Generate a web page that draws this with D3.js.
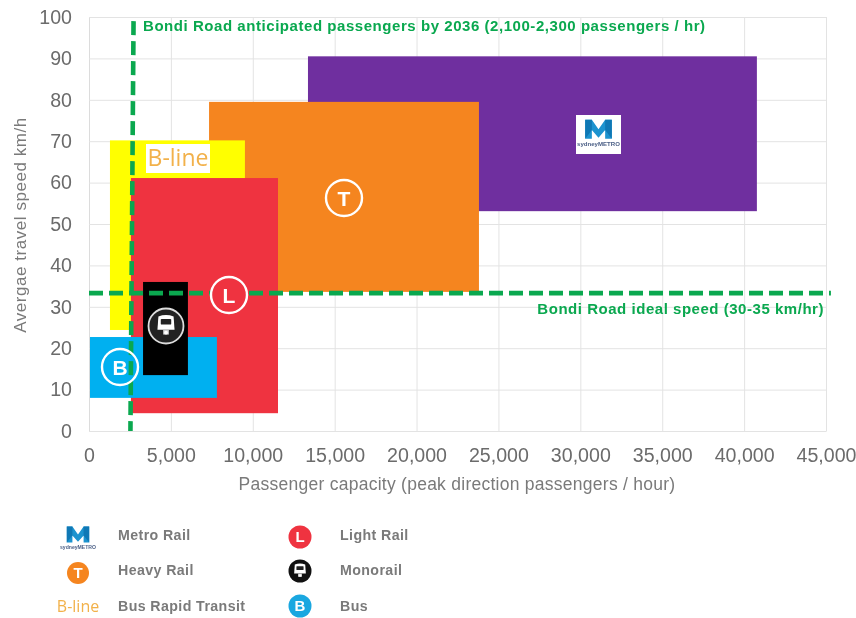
<!DOCTYPE html>
<html><head><meta charset="utf-8">
<script src="https://cdn.jsdelivr.net/npm/d3@7"></script>
<style>
html,body{margin:0;padding:0;background:#fff}
svg{display:block;filter:blur(0.5px)}
text{font-family:"Liberation Sans",Arial,sans-serif}
.tick line{stroke:#e3e3e3}
.domain{stroke:#dcdcdc}
</style></head><body>
<svg id="c" width="856" height="618"></svg>
<script>
const modes      = ["Metro Rail","Heavy Rail","Bus Rapid Transit","Light Rail","Bus","Monorail"];
const capMin     = [13370, 7330, 1280, 2560,   60, 3300];
const capMax     = [40780,23810, 9520,11540, 7810, 6040];
const speedMin   = [53.1, 33.6, 24.4,  4.3,  8.0, 13.5];
const speedMax   = [90.5, 79.5, 70.2, 61.1, 22.7, 36.0];
const modeColors = ["#6f2f9f","#f5851f","#ffff00","#ef3340","#00b0f0","#000000"];
const xTicks = [0,5000,10000,15000,20000,25000,30000,35000,40000,45000];
const yTicks = [0,10,20,30,40,50,60,70,80,90,100];
const idealSpeedX = [0,45300];  const idealSpeedY = [33.3,33.3];
const anticipatedX = [2720,2530]; const anticipatedY = [99,0];
const green = "#0aa84f", grey="#7a7a7a";
const legendLeft  = ["Metro Rail","Heavy Rail","Bus Rapid Transit"];
const legendRight = ["Light Rail","Monorail","Bus"];

const svg=d3.select("#c");
const x=d3.scaleLinear().domain([0,45000]).range([89,826]);
const y=d3.scaleLinear().domain([0,100]).range([431,17]);

const gx=svg.append("g").attr("transform","translate(0,431)")
  .call(d3.axisBottom(x).tickValues(xTicks).tickSize(-414).tickSizeOuter(0).tickPadding(17).tickFormat(d3.format(",")));
const gy=svg.append("g").attr("transform","translate(89,0)")
  .call(d3.axisLeft(y).tickValues(yTicks).tickSize(-737).tickSizeOuter(0).tickPadding(17));
[gx,gy].forEach(g=>g.selectAll("text").attr("fill","#6b6b6b").style("font-size","19.6px").style("font-family","Liberation Sans"));
gx.selectAll(".tick text").attr("dy","0.71em");

svg.append("g").selectAll("rect").data(modes).join("rect")
  .attr("x",(d,i)=>x(capMin[i])).attr("width",(d,i)=>x(capMax[i])-x(capMin[i]))
  .attr("y",(d,i)=>y(speedMax[i])).attr("height",(d,i)=>y(speedMin[i])-y(speedMax[i]))
  .attr("fill",(d,i)=>modeColors[i]);

const dash="14 6";
const ln=d3.line().x(d=>x(d[0])).y(d=>y(d[1]));
svg.append("path").attr("d",ln(d3.zip(anticipatedX,anticipatedY))).attr("fill","none")
  .attr("stroke",green).attr("stroke-width",4.6).attr("stroke-dasharray",dash);
svg.append("path").attr("d",ln(d3.zip(idealSpeedX,idealSpeedY))).attr("fill","none")
  .attr("stroke",green).attr("stroke-width",4.6).attr("stroke-dasharray",dash);

function roundel(cx,cy,r,fill,stroke,sw,letter,fs){
  svg.append("circle").attr("cx",cx).attr("cy",cy).attr("r",r).attr("fill",fill).attr("stroke",stroke).attr("stroke-width",sw);
  if(letter) svg.append("text").attr("x",cx).attr("y",cy).attr("dy","0.36em").attr("text-anchor","middle")
    .attr("fill","#fff").attr("font-weight","700").style("font-size",fs+"px").text(letter);
}
function train(cx,cy,s){
  const g=svg.append("g").attr("transform",`translate(${cx},${cy}) scale(${s})`);
  g.append("path").attr("d","M-8,-10 Q0,-13 8,-10 L9,4 L-9,4 Z").attr("fill","#fff");
  g.append("rect").attr("x",-5.5).attr("y",-7.5).attr("width",11).attr("height",6).attr("rx",1).attr("fill","#222");
  g.append("rect").attr("x",-3).attr("y",4).attr("width",6).attr("height",5).attr("fill","#ccc");
  g.append("circle").attr("cx",0).attr("cy",7).attr("r",2).attr("fill","#fff");
}
function mlogo(cx,cy,s){
  const g=svg.append("g").attr("transform",`translate(${cx},${cy}) scale(${s})`);
  g.append("path").attr("d","M-14,-13 L-7,-13 L0,-3 L7,-13 L14,-13 L14,7 L7,7 L7,-2 L0,6 L-7,-2 L-7,7 L-14,7 Z").attr("fill","#1c93cf");
  g.append("path").attr("d","M-14,-13 L-7,-13 L-7,-2 L-14,7 Z").attr("fill","#0f78b5");
  g.append("path").attr("d","M14,-13 L7,-13 L7,-2 L14,7 Z").attr("fill","#0f78b5");
  g.append("text").attr("x",0).attr("y",15).attr("text-anchor","middle").attr("fill","#4b5f86")
    .attr("font-weight","700").style("font-size","6.4px").text("sydneyMETRO");
}
function bline(tx,ty,fs){
  svg.append("text").attr("x",tx).attr("y",ty).attr("dy","0.36em").attr("text-anchor","middle")
    .attr("fill","#f2b14a").style("font-size",fs+"px").style("font-family","Open Sans").style("font-weight","400").text("B-line");
}

roundel(344,198,18,"none","#fff",2.4,"T",21);
roundel(229,295,18,"#ef3340","#fff",2.4,"L",21);
roundel(120,367,18,"none","#fff",2.4,"B",21);
roundel(166,326,17.5,"#222","#ddd",1.8);
train(166,326,.95);
svg.append("rect").attr("x",146).attr("y",144).attr("width",64).attr("height",29).attr("fill","#fff");
bline(178,158,23);
svg.append("rect").attr("x",576).attr("y",115).attr("width",45).attr("height",39).attr("fill","#fff");
mlogo(598.5,132,.95);

svg.append("text").attr("x",143).attr("y",31).attr("fill",green).attr("font-weight","700").style("font-size","15px").style("letter-spacing",".55px")
  .text("Bondi Road anticipated passengers by 2036 (2,100-2,300 passengers / hr)");
svg.append("text").attr("x",824).attr("y",314).attr("text-anchor","end").attr("fill",green).attr("font-weight","700").style("font-size","15px").style("letter-spacing",".53px")
  .text("Bondi Road ideal speed (30-35 km/hr)");

svg.append("text").attr("x",457).attr("y",490).attr("text-anchor","middle").attr("fill",grey).style("font-size","17.5px").style("letter-spacing",".26px")
  .text("Passenger capacity (peak direction passengers / hour)");
svg.append("text").attr("transform","translate(26,225) rotate(-90)").attr("text-anchor","middle").attr("fill",grey).style("font-size","17px").style("letter-spacing",".55px")
  .text("Avergae travel speed km/h");

const rowY=[535,570,606];
legendLeft.forEach((t,i)=>svg.append("text").attr("x",118).attr("y",rowY[i]).attr("dy","0.36em")
  .attr("fill",grey).attr("font-weight","700").style("font-size","14.2px").style("letter-spacing",".4px").text(t));
legendRight.forEach((t,i)=>svg.append("text").attr("x",340).attr("y",rowY[i]).attr("dy","0.36em")
  .attr("fill",grey).attr("font-weight","700").style("font-size","14.2px").style("letter-spacing",".4px").text(t));
mlogo(78,537,.8);
roundel(78,573,11,"#f5851f","none",0,"T",15);
bline(78,606,16);
roundel(300,537,11.5,"#ef3340","none",0,"L",15);
roundel(300,571,11.5,"#111","none",0);
train(300,571,.65);
roundel(300,606,11.5,"#1aa7e0","none",0,"B",15);
</script></body></html>
